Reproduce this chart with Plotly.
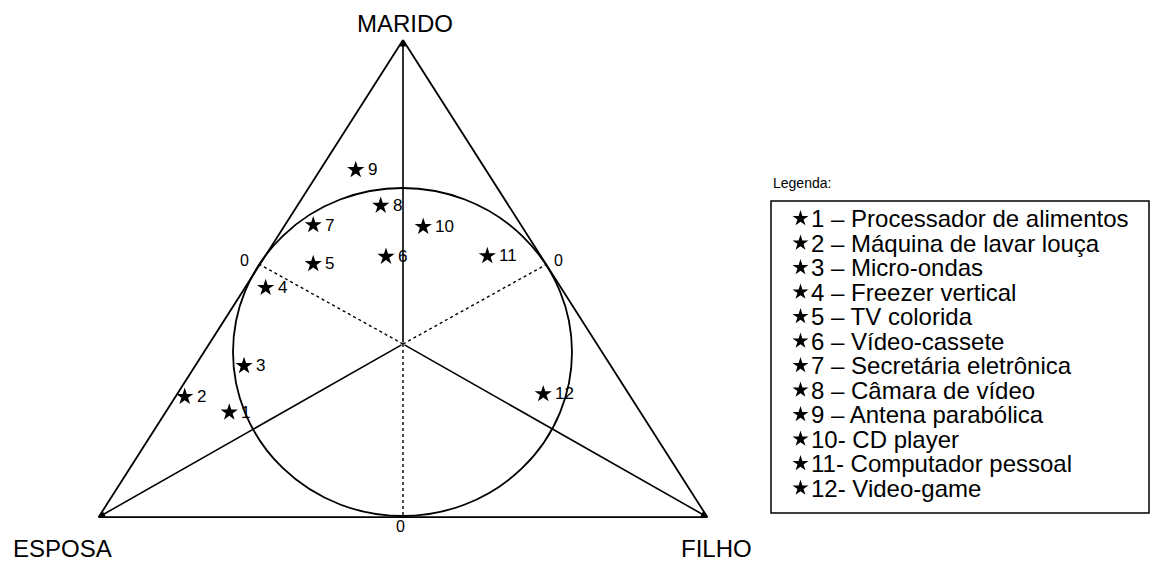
import plotly.graph_objects as go

# ---------------- data ----------------
item_ids = ["1", "2", "3", "4", "5", "6", "7", "8", "9", "10", "11", "12"]
item_names = [
    "Processador de alimentos", "Máquina de lavar louça", "Micro-ondas",
    "Freezer vertical", "TV colorida", "Vídeo-cassete", "Secretária eletrônica",
    "Câmara de vídeo", "Antena parabólica", "CD player", "Computador pessoal",
    "Video-game",
]
item_sep = [" – "] * 9 + ["- "] * 3
# positions on the map (centre = 0,0 ; unit = radius of the inner circle)
item_x = [-1.022, -1.284, -0.935, -0.808, -0.528, -0.100, -0.528, -0.131, -0.278, 0.119, 0.496, 0.825]
item_y = [-0.402, -0.310, -0.129, 0.331, 0.471, 0.514, 0.700, 0.814, 1.024, 0.690, 0.518, -0.294]

vertex_labels = ["MARIDO", "ESPOSA", "FILHO"]
vertex_x = [0.0, -1.79, 1.79]
vertex_y = [1.788, -1.018, -1.018]
tangent_x = [0.0, -0.847, 0.847]
tangent_y = [-1.018, 0.47, 0.47]
tangent_labels = ["0", "0", "0"]

# ---------------- layout helpers (pixel -> data) ----------------
W, H = 1168, 561
CX, CY, S = 403.0, 344.0, 170.0


def X(px):
    return (px - CX) / S


def Y(py):
    return (CY - py) / S


FONT = "Liberation Sans, Arial, sans-serif"
fig = go.Figure()

# triangle
fig.add_trace(go.Scatter(
    x=vertex_x + [vertex_x[0]], y=vertex_y + [vertex_y[0]], mode="lines",
    line=dict(color="black", width=1.8), hoverinfo="skip", showlegend=False))

# dotted radii to the tangent points
for tx, ty in zip(tangent_x, tangent_y):
    fig.add_trace(go.Scatter(
        x=[0, tx], y=[0, ty], mode="lines",
        line=dict(color="black", width=1.4, dash="dot"),
        hoverinfo="skip", showlegend=False))

annotations = []
# solid spokes with arrowheads to the vertices
for vx, vy in zip(vertex_x, vertex_y):
    annotations.append(dict(
        x=vx, y=vy, ax=0, ay=0, xref="x", yref="y", axref="x", ayref="y",
        text="", showarrow=True, arrowhead=2, arrowsize=0.8, arrowwidth=1.6,
        arrowcolor="black"))

# inner circle
shapes = [dict(type="circle", xref="x", yref="y",
               x0=X(233), x1=X(572), y0=Y(516), y1=Y(188),
               line=dict(color="black", width=1.8))]

# stars
fig.add_trace(go.Scatter(
    x=item_x, y=item_y, mode="markers",
    marker=dict(symbol="star", size=13, color="black", line=dict(width=0)),
    hoverinfo="skip", showlegend=False))
for i, (x, y) in enumerate(zip(item_x, item_y)):
    annotations.append(dict(
        x=x, y=y, xref="x", yref="y", text=item_ids[i], showarrow=False,
        xanchor="left", yanchor="middle", xshift=10,
        font=dict(family=FONT, size=17, color="black")))

# vertex labels
vertex_label_pos = [(405, 23), (62, 548), (716, 548)]
for lab, (px, py) in zip(vertex_labels, vertex_label_pos):
    annotations.append(dict(
        x=X(px), y=Y(py), xref="x", yref="y", text=lab, showarrow=False,
        xanchor="center", yanchor="middle",
        font=dict(family=FONT, size=24, color="black")))

# zero labels
zero_pos = [(400, 526), (244, 260), (558, 260)]
for lab, (px, py) in zip(tangent_labels, zero_pos):
    annotations.append(dict(
        x=X(px), y=Y(py), xref="x", yref="y", text=lab, showarrow=False,
        xanchor="center", yanchor="middle",
        font=dict(family=FONT, size=16, color="black")))

# legend
annotations.append(dict(
    x=X(771), y=Y(183), xref="x", yref="y", text="Legenda:", showarrow=False,
    xanchor="left", yanchor="middle", font=dict(family=FONT, size=14, color="black")))
shapes.append(dict(type="rect", xref="x", yref="y",
                   x0=X(771), x1=X(1149), y0=Y(513), y1=Y(201),
                   line=dict(color="black", width=1.5)))
row_py = [218.5 + 24.5 * i for i in range(len(item_ids))]
fig.add_trace(go.Scatter(
    x=[X(800.5)] * len(item_ids), y=[Y(p) for p in row_py], mode="markers",
    marker=dict(symbol="star", size=12, color="black", line=dict(width=0)),
    hoverinfo="skip", showlegend=False))
for i, p in enumerate(row_py):
    annotations.append(dict(
        x=X(810), y=Y(p), xref="x", yref="y",
        text=item_ids[i] + item_sep[i] + item_names[i], showarrow=False,
        xanchor="left", yanchor="middle", borderpad=0,
        font=dict(family=FONT, size=24, color="black")))

fig.update_layout(
    width=W, height=H, autosize=False,
    margin=dict(l=0, r=0, t=0, b=0, pad=0),
    paper_bgcolor="white", plot_bgcolor="white",
    xaxis=dict(range=[X(0), X(W)], visible=False, fixedrange=True),
    yaxis=dict(range=[Y(H), Y(0)], visible=False, fixedrange=True),
    shapes=shapes, annotations=annotations, showlegend=False,
)

fig.write_html("out.html", config={"displayModeBar": False},
               post_script="document.body.style.margin='0';document.body.style.overflow='hidden';")
